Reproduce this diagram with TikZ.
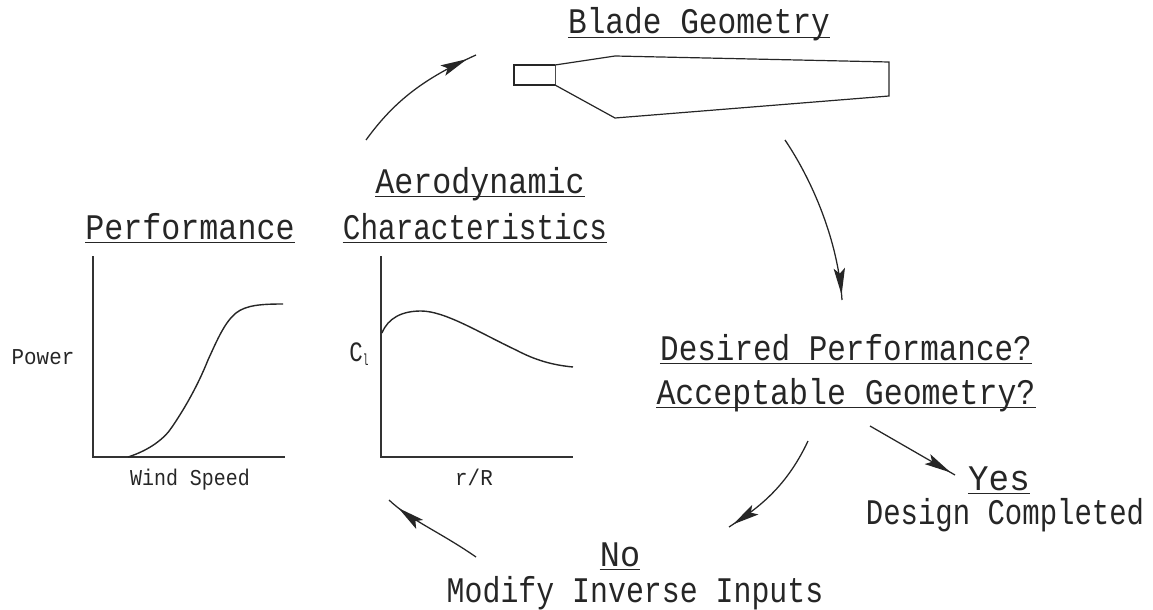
\documentclass[tikz,border=0pt]{standalone}
\usepackage{fontspec}
\setmainfont{Liberation Mono}
\usetikzlibrary{arrows.meta,decorations.markings}
\newcommand{\bigcad}{\fontsize{27pt}{30pt}\selectfont}
\newcommand{\smallcad}{\fontsize{17pt}{20pt}\selectfont}
\newcommand{\ulabel}[5]{%
  \node[biglabel] (#1) at (#2,#3) {\scalebox{#5}[1]{#4}};
  \draw[underline] ([yshift=-2.5pt]#1.base west) -- ([yshift=-2.5pt]#1.base east);}
\tikzset{
  biglabel/.style={font=\bigcad,anchor=base,inner sep=0pt,text=black!85},
  smalllabel/.style={font=\smallcad,anchor=base,inner sep=0pt,text=black!85},
  underline/.style={line width=1.1pt,black!85},
  outline/.style={line width=0.9pt,black!85,line join=miter},
  axisline/.style={line width=1pt,black!80},
  curveline/.style={line width=1.05pt,black!85},
  flow/.style={line width=0.95pt,black!85,postaction={decorate},
    decoration={markings,mark=at position #1 with {\arrow{Stealth[length=20pt,width=8.5pt,inset=4pt]}}}},
}
\begin{document}
\begin{tikzpicture}[x=0.75pt,y=-0.75pt]
\useasboundingbox (0,0) rectangle (1153,610);
% titles
\ulabel{blade}{699}{34}{Blade Geometry}{.866}
\ulabel{aero}{480}{193}{Aerodynamic}{.88}
\ulabel{perf}{190}{239}{Performance}{.88}
\ulabel{char}{475}{239}{Characteristics}{.815}
\ulabel{desired}{846}{360}{Desired Performance?}{.86}
\ulabel{accept}{846}{404}{Acceptable Geometry?}{.877}
\ulabel{yes}{999}{490}{Yes}{.95}
\ulabel{no}{620}{566}{No}{.93}
\node[biglabel] (done) at (1005,524) {\scalebox{.805}[1]{Design Completed}};
\node[biglabel] (modify) at (635,602) {\scalebox{.83}[1]{Modify Inverse Inputs}};
% small labels
\node[smalllabel] (power) at (43,364) {\scalebox{.92}[1]{Power}};
\node[smalllabel] (wind) at (190,485) {\scalebox{.88}[1]{Wind Speed}};
\node[smalllabel] (rr) at (474,485) {\scalebox{.92}[1]{r/R}};
\node[smalllabel] (cl) at (359,361) {\fontsize{21pt}{22pt}\selectfont\scalebox{.8}[1]{C}\raisebox{-3pt}{\fontsize{12pt}{13pt}\selectfont\scalebox{.6}[1]{l}}};
% left chart
\coordinate (ltop) at (93,256);
\coordinate (lorg) at (93,457);
\coordinate (lend) at (285,457);
\draw[axisline] (ltop) -- (lorg) -- (lend);
\draw[curveline] (128,457) .. controls (150,450) and (165,438) .. (172,427)
  .. controls (185,408) and (198,385) .. (208,360)
  .. controls (218,338) and (225,322) .. (236,313)
  .. controls (246,305) and (262,304) .. (283,304);
% right chart
\coordinate (rtop) at (381,256);
\coordinate (rorg) at (381,457);
\coordinate (rend) at (573,457);
\draw[axisline] (rtop) -- (rorg) -- (rend);
\draw[curveline] (382,333) .. controls (388,318) and (402,311) .. (421,311)
  .. controls (445,311) and (480,333) .. (516,350)
  .. controls (535,360) and (552,365) .. (573,367);
% blade
\coordinate (b1) at (514,65);
\coordinate (b2) at (555,65);
\coordinate (b3) at (555,85);
\coordinate (b4) at (514,85);
\coordinate (b5) at (615,56);
\coordinate (b6) at (889,62);
\coordinate (b7) at (889,96);
\coordinate (b8) at (615,118);
\draw[outline] (b2) -- (b1) -- (b4) -- (b3);
\draw[line width=0.4pt,black!70] (b2) -- (b3);
\draw[outline] (b2) -- (b5) -- (b6) -- (b7) -- (b8) -- (b3);
% arrows
\coordinate (a1s) at (366,140);
\coordinate (a1e) at (476,55);
\coordinate (a2s) at (785,140);
\coordinate (a2e) at (842,300);
\coordinate (a3s) at (808,441);
\coordinate (a3e) at (729,527);
\coordinate (a4s) at (870,426);
\coordinate (a4e) at (955,475);
\coordinate (a5s) at (476,557);
\coordinate (a5e) at (389,500);
\draw[flow=0.93] (a1s) .. controls (395,100) and (425,78) .. (a1e);
\draw[flow=0.97] (a2s) .. controls (812,180) and (838,240) .. (a2e);
\draw[flow=0.96] (a3s) .. controls (785,490) and (755,510) .. (a3e);
\draw[flow=0.95] (a4s) -- (a4e);
\draw[flow=0.88] (a5s) .. controls (440,532) and (410,520) .. (a5e);
\end{tikzpicture}
\end{document}
